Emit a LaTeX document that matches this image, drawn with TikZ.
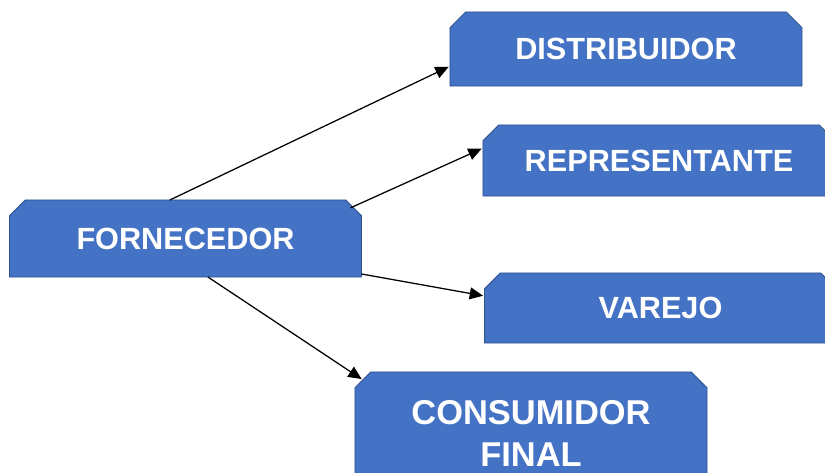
\documentclass[tikz,border=0pt]{standalone}
\usepackage{fontspec}
\setmainfont{Liberation Sans}
\usetikzlibrary{shapes.misc,arrows.meta}
\definecolor{caixa}{HTML}{4472C4}
\definecolor{borda}{HTML}{2F528F}

\tikzset{
  canal/.style={chamfered rectangle, chamfered rectangle corners={north west, north east},
    chamfered rectangle xsep=0.27cm, fill=caixa, draw=borda, line width=0.6pt,
    minimum width=8.8cm, inner sep=0pt, outer sep=0pt, text=white, align=center,
    font=\fontsize{21.8}{26}\selectfont\bfseries},
  seta/.style={-{Triangle[length=9.5pt,width=8.5pt]}, line width=0.9pt, shorten >=1pt}
}

\begin{document}
\begin{tikzpicture}[x=0.025cm, y=-0.025cm]
\useasboundingbox (0,0) rectangle (825,473);
\clip (0,0) rectangle (825,473);
\node[canal, minimum height=1.85cm] (distr) at (626,49) {DISTRIBUIDOR};
\node[canal, minimum height=1.775cm] (repr) at (659,160.5) {REPRESENTANTE};
\node[canal, minimum height=1.925cm] (forn) at (185.5,238.5) {FORNECEDOR};
\node[canal, minimum height=1.75cm] (varejo) at (660.5,308) {VAREJO};
\node[canal, minimum height=3.05cm, font=\fontsize{24.5}{29.9}\selectfont\bfseries] (cons) at (531,433) {CONSUMIDOR\\FINAL};
\draw[seta] ([xshift=-0.39cm]forn.north) -- ([yshift=-0.43cm]distr.west);
\draw[seta] ([xshift=-0.08cm]forn.north east) -- ([yshift=0.31cm]repr.west);
\draw[seta] ([yshift=0.075cm]forn.south east) -- ([yshift=0.3cm]varejo.west);
\draw[seta] ([xshift=0.56cm]forn.south) -- (cons.north west);
\end{tikzpicture}
\end{document}
